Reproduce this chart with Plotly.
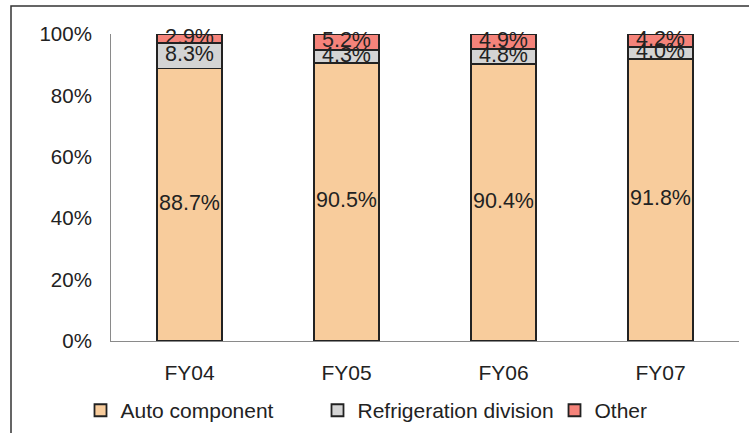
import numpy as np
import plotly.graph_objects as go

# Revenue mix by segment (share of total, %)
categories = ["FY04", "FY05", "FY06", "FY07"]
auto_component = [88.7, 90.5, 90.4, 91.8]
refrigeration = [8.3, 4.3, 4.8, 4.0]
other = [2.9, 5.2, 4.9, 4.2]

series = [
    ("Auto component", auto_component, "#F8CC9C"),
    ("Refrigeration division", refrigeration, "#D4D4D4"),
    ("Other", other, "#F5837A"),
]

FONT = "Arial, Liberation Sans, sans-serif"
TEXT_COLOR = "#222222"

# Plot area in pixels (used to place legend entries in paper units)
PLOT_L, PLOT_W = 111, 628
legend_ids = ["legend", "legend2", "legend3"]
legend_px = [80.5, 317.5, 554.5]

fig = go.Figure()
for (name, vals, color), lid in zip(series, legend_ids):
    fig.add_trace(go.Bar(
        x=categories, y=vals, name=name, legend=lid,
        marker=dict(color=color, line=dict(color="#222222", width=1.8)),
    ))

# Labels centred in each stacked segment (shares normalised to 100%)
stack = np.array([s[1] for s in series], dtype=float)
norm = stack / stack.sum(axis=0) * 100
tops = np.cumsum(norm, axis=0)
mids = tops - norm / 2
for (name, vals, _), ymid in zip(series, mids):
    fig.add_trace(go.Scatter(
        x=categories, y=ymid, mode="text",
        text=[f"{v:.1f}%" for v in vals],
        textposition="middle center",
        textfont=dict(family=FONT, size=21.5, color=TEXT_COLOR),
        showlegend=False, hoverinfo="skip", cliponaxis=False,
    ))

legend_style = dict(
    orientation="h", xanchor="left", y=-0.16, yanchor="top",
    font=dict(family=FONT, size=21, color=TEXT_COLOR),
    itemwidth=30, bgcolor="rgba(0,0,0,0)",
)
legends = {
    lid: dict(legend_style, x=(px - PLOT_L) / PLOT_W)
    for lid, px in zip(legend_ids, legend_px)
}

fig.update_layout(
    barmode="stack",
    barnorm="percent",
    bargap=0.585,
    width=749, height=433,
    margin=dict(l=PLOT_L, r=749 - PLOT_L - PLOT_W, t=34, b=92, autoexpand=False),
    paper_bgcolor="white", plot_bgcolor="white",
    font=dict(family=FONT, size=20, color=TEXT_COLOR),
    showlegend=True,
    **legends,
    xaxis=dict(
        showline=True, linecolor="#8a8a8a", linewidth=1,
        ticks="", showgrid=False, ticklabelstandoff=13,
        tickfont=dict(family=FONT, size=21, color=TEXT_COLOR),
    ),
    yaxis=dict(
        range=[0, 100], dtick=20, ticksuffix="%",
        showline=True, linecolor="#8a8a8a", linewidth=1,
        ticks="", showgrid=False, zeroline=False, ticklabelstandoff=14,
        tickfont=dict(family=FONT, size=20.5, color=TEXT_COLOR),
    ),
    shapes=[dict(
        type="rect", xref="paper", yref="paper",
        x0=(11 - PLOT_L) / PLOT_W, x1=1.05, y0=-0.35, y1=(341 - 6) / 307,
        line=dict(color="#333333", width=1.5), fillcolor="rgba(0,0,0,0)",
        layer="above",
    )],
)

fig.write_html("out.html")
